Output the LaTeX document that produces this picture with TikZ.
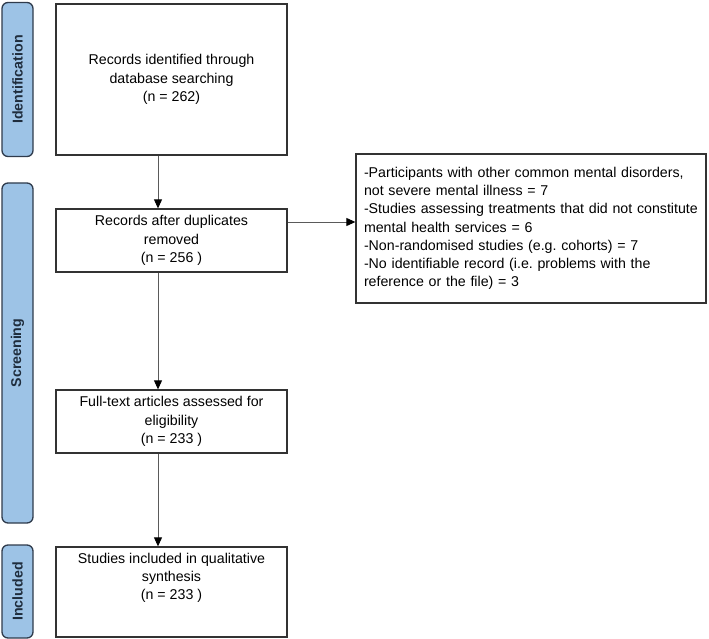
\documentclass[tikz,border=0pt]{standalone}
\usepackage{fontspec}
\setmainfont{Liberation Sans}
\usetikzlibrary{arrows.meta}
\definecolor{tabfill}{HTML}{9DC3E6}
\definecolor{tabdraw}{HTML}{2F3B4C}
\definecolor{tabtext}{HTML}{1F2D3D}
\definecolor{boxdraw}{HTML}{333333}
\definecolor{arrline}{HTML}{5A5A5A}
\begin{document}
\begin{tikzpicture}[x=1pt,y=-1pt,
  every node/.style={font=\fontsize{14.2}{18.2}\selectfont\frenchspacing},
  box/.style={draw=boxdraw, line width=1.3pt, minimum width=231pt, align=center, inner sep=0pt},
  tab/.style={draw=tabdraw, fill=tabfill, line width=1.3pt, rounded corners=6pt, minimum height=31pt, inner sep=0pt, text=tabtext, font=\fontsize{14.2}{18}\selectfont\bfseries, rotate=90},
  arr/.style={draw=arrline, line width=0.9pt, -{Triangle[length=9pt,width=8pt,color=black,fill=black]}}]
\useasboundingbox (0,0) rectangle (709,639);
\node[tab, minimum width=154pt] (tid) at (17.5,79.5) {Identification};
\node[tab, minimum width=340pt] (tscr) at (17.5,353) {Screening};
\node[tab, minimum width=93pt] (tinc) at (17.5,591.5) {Included};
\node[box, minimum height=151pt] (b1) at (171.5,79.5) {Records identified through\\database searching\\(n = 262)};
\node[box, minimum height=63pt] (b2) at (171.5,240.5) {Records after duplicates\\removed\\(n = 256 )};
\node[box, minimum height=63pt] (b3) at (171.5,421.5) {Full-text articles assessed for\\eligibility\\(n = 233 )};
\node[box, minimum height=90pt] (b4) at (171.5,592) {};
\node[inner sep=0pt, align=center, anchor=north] (b4t) at (171.5,553) {Studies included in qualitative\\synthesis\\(n = 233 )};
\node[box, minimum width=350pt, minimum height=149pt, text width=334pt, align=left] (ex) at (531,228.5) {-Participants with other common mental disorders,\\not severe mental illness = 7\\-Studies assessing treatments that did not constitute\\mental health services = 6\\-Non-randomised studies (e.g. cohorts) = 7\\-No identifiable record (i.e. problems with the\\reference or the file) = 3};
\coordinate (ax) at (158,0);
\coordinate (ay) at (0,222);
\draw[arr] (ax |- b1.south) -- (ax |- b2.north);
\draw[arr] (ax |- b2.south) -- (ax |- b3.north);
\draw[arr] (ax |- b3.south) -- (ax |- b4.north);
\draw[arr] (b2.east |- ay) -- (ex.west |- ay);
\end{tikzpicture}
\end{document}
